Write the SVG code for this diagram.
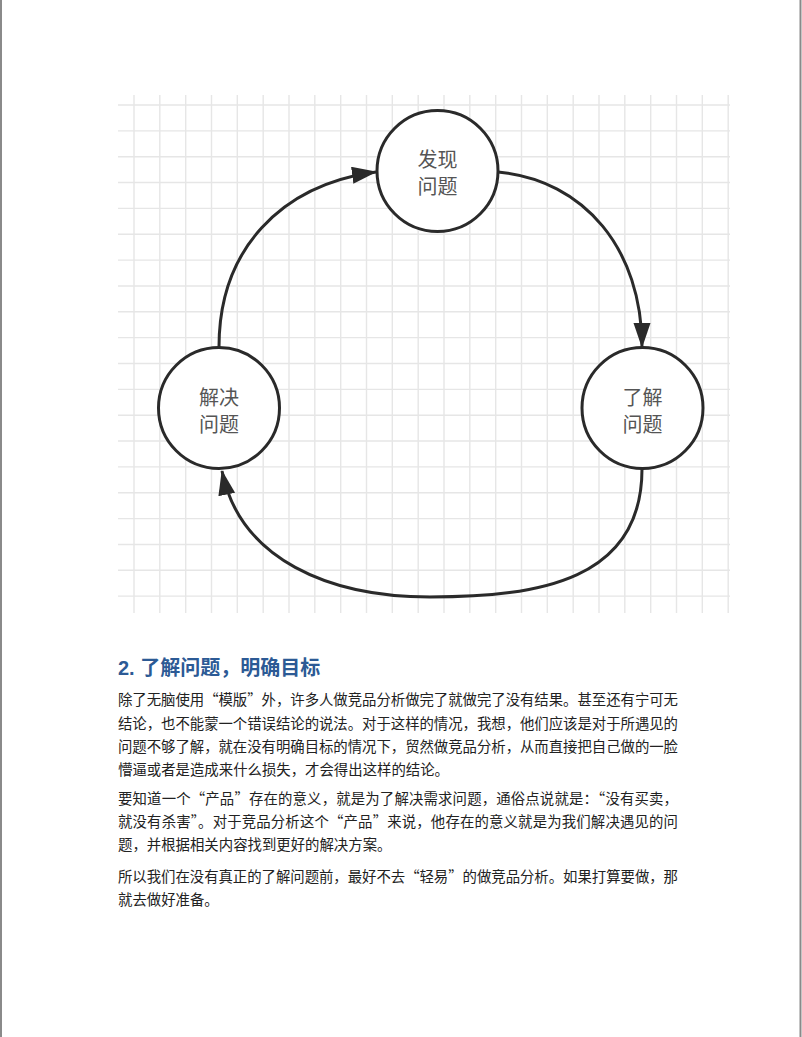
<svg xmlns="http://www.w3.org/2000/svg" width="802" height="1037" viewBox="0 0 802 1037">
<style>
.grid{stroke:#e6e6e6;stroke-width:1.4;fill:none}
.node circle{fill:#fff;stroke:#2a2a2a;stroke-width:3}
.node text{font-family:"Noto Sans CJK SC","Noto Sans",sans-serif;font-size:20px;fill:#555;text-anchor:middle}
.conn{fill:none;stroke:#2a2a2a;stroke-width:3}
.h{font-family:"Liberation Sans","Noto Sans CJK SC",sans-serif;font-weight:bold;font-size:20px;fill:#2c5a95}
.p{font-family:"Noto Sans CJK SC",sans-serif;font-size:14.4px;fill:#222}
</style>
<defs>
<marker id="arr" markerUnits="userSpaceOnUse" markerWidth="26" markerHeight="18" refX="24" refY="8.5" orient="auto">
<path d="M0,0 L25,8.5 L0,17 z" fill="#2a2a2a"/>
</marker>
</defs>
<rect width="802" height="1037" fill="#fff"/>
<line x1="1" y1="0" x2="1" y2="1037" stroke="#8a8a8a" stroke-width="2"/>
<line x1="800.5" y1="0" x2="800.5" y2="1037" stroke="#8a8a8a" stroke-width="2"/>
<g id="grid" class="grid">
<path d="M134,95V613M159.8,95V613M185.7,95V613M211.5,95V613M237.3,95V613M263.2,95V613M289,95V613M314.8,95V613M340.7,95V613M366.5,95V613M392.3,95V613M418.2,95V613M444,95V613M469.8,95V613M495.7,95V613M521.5,95V613M547.3,95V613M573.2,95V613M599,95V613M624.8,95V613M650.7,95V613M676.5,95V613M702.3,95V613M728.2,95V613"/>
<path d="M118,105H730M118,130.85H730M118,156.7H730M118,182.55H730M118,208.4H730M118,234.25H730M118,260.1H730M118,285.95H730M118,311.8H730M118,337.65H730M118,363.5H730M118,389.35H730M118,415.2H730M118,441.05H730M118,466.9H730M118,492.75H730M118,518.6H730M118,544.45H730M118,570.3H730M118,596.15H730"/>
</g>
<g id="connectors">
<path class="conn" d="M219,347 C219,250 280,185 376,172" marker-end="url(#arr)"/>
<path class="conn" d="M498,172 C585,180 642,250 642,347" marker-end="url(#arr)"/>
<path class="conn" d="M642,469 C642,580 540,597 430,597 C330,597 240,560 222,471" marker-end="url(#arr)"/>
</g>
<g id="node-discover" class="node">
<circle cx="437.5" cy="171" r="60.5"/>
<text x="437.5" y="167"><tspan x="437.5">发现</tspan><tspan x="437.5" dy="27">问题</tspan></text>
</g>
<g id="node-understand" class="node">
<circle cx="642.5" cy="408" r="60.5"/>
<text x="642.5" y="405"><tspan x="642.5">了解</tspan><tspan x="642.5" dy="27">问题</tspan></text>
</g>
<g id="node-solve" class="node">
<circle cx="219" cy="408" r="60.5"/>
<text x="219" y="405"><tspan x="219">解决</tspan><tspan x="219" dy="27">问题</tspan></text>
</g>
<g id="text">
<text class="h" x="118" y="675">2. 了解问题，明确目标</text>
<text class="p" x="118" y="705" textLength="560" lengthAdjust="spacing">除了无脑使用“模版”外，许多人做竞品分析做完了就做完了没有结果。甚至还有宁可无</text>
<text class="p" x="118" y="728.5" textLength="560" lengthAdjust="spacing">结论，也不能蒙一个错误结论的说法。对于这样的情况，我想，他们应该是对于所遇见的</text>
<text class="p" x="118" y="752" textLength="560" lengthAdjust="spacing">问题不够了解，就在没有明确目标的情况下，贸然做竞品分析，从而直接把自己做的一脸</text>
<text class="p" x="118" y="775">懵逼或者是造成来什么损失，才会得出这样的结论。</text>
<text class="p" x="118" y="804" textLength="560" lengthAdjust="spacing">要知道一个“产品”存在的意义，就是为了解决需求问题，通俗点说就是：“没有买卖，</text>
<text class="p" x="118" y="827" textLength="560" lengthAdjust="spacing">就没有杀害”。对于竞品分析这个“产品”来说，他存在的意义就是为我们解决遇见的问</text>
<text class="p" x="118" y="850">题，并根据相关内容找到更好的解决方案。</text>
<text class="p" x="118" y="882" textLength="560" lengthAdjust="spacing">所以我们在没有真正的了解问题前，最好不去“轻易”的做竞品分析。如果打算要做，那</text>
<text class="p" x="118" y="905">就去做好准备。</text>
</g>
</svg>
